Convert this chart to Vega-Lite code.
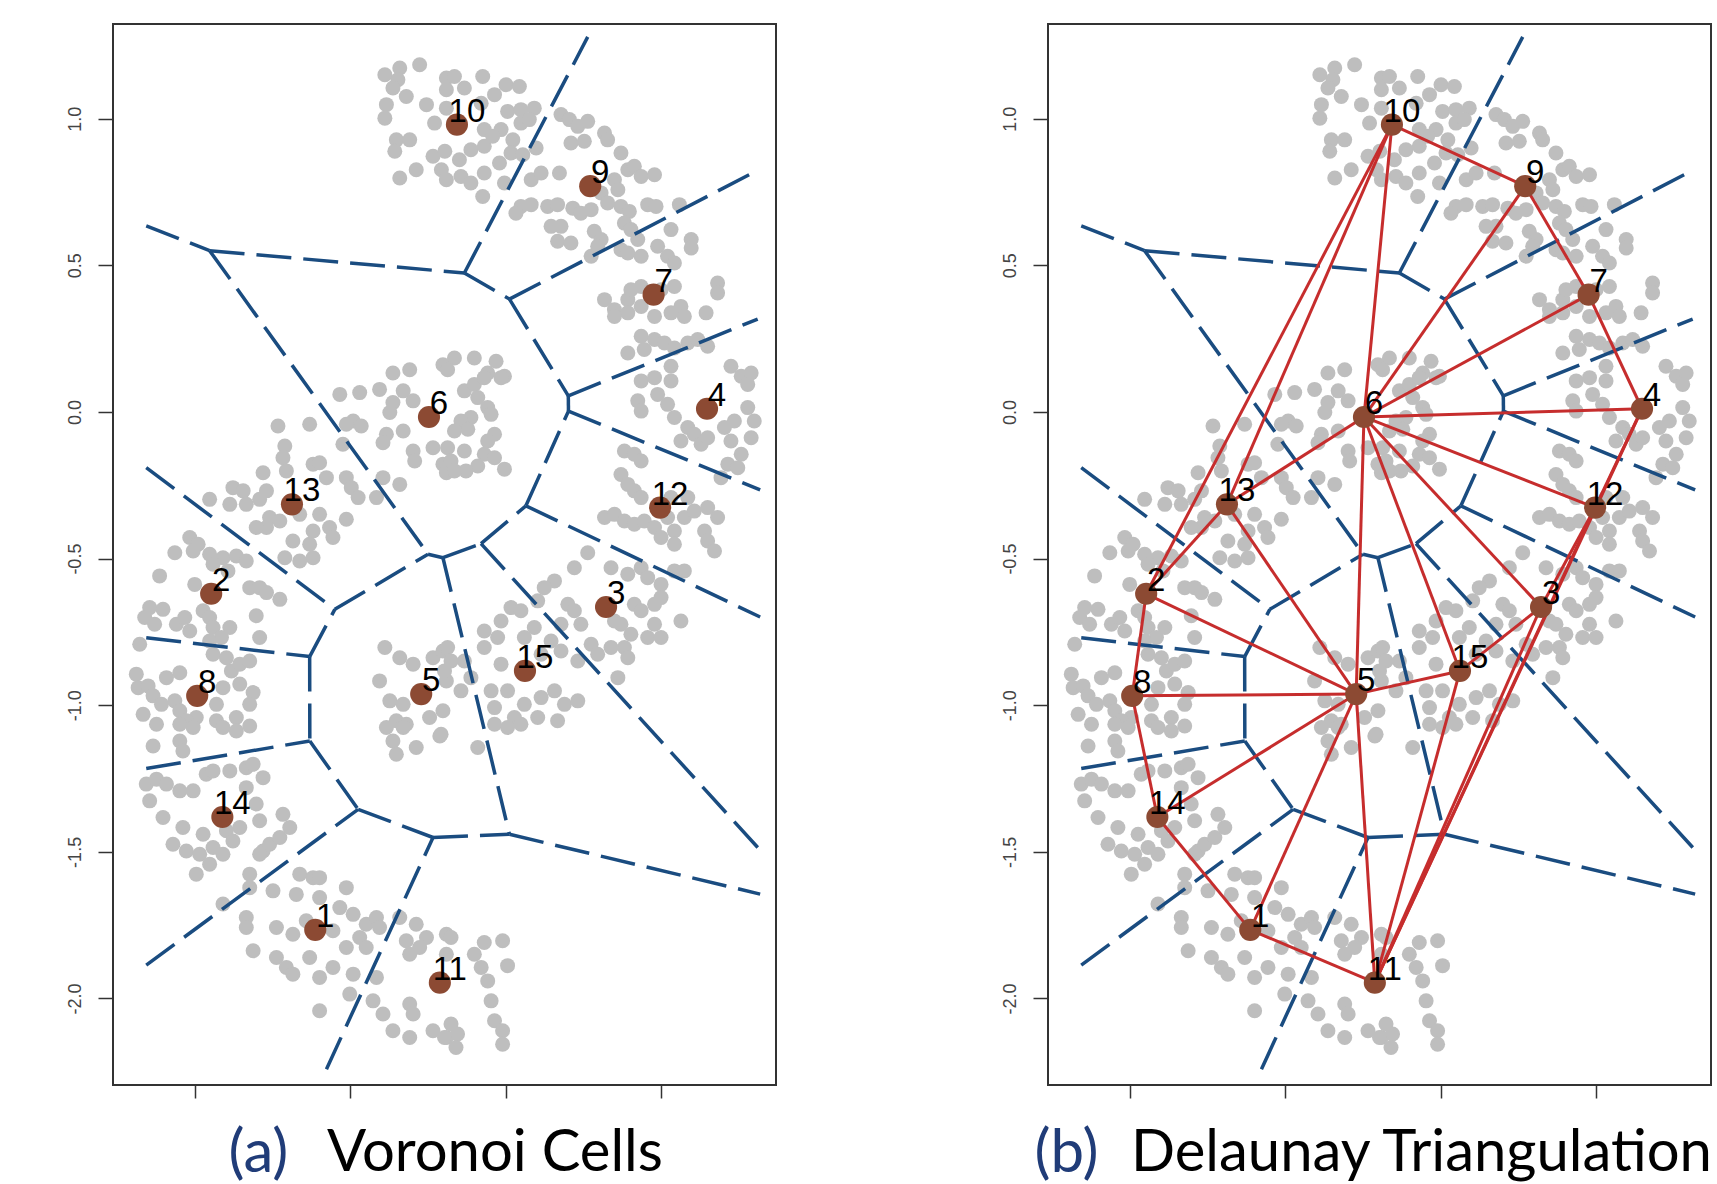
{
"$schema": "https://vega.github.io/schema/vega-lite/v6.json",
"background": "white",
"padding": {"left": 5, "top": 23, "right": 0, "bottom": 0},
"spacing": 163,
"config": {
  "view": {"stroke": "#333333", "strokeWidth": 2},
  "axis": {"grid": false, "domain": false, "tickColor": "#333333", "tickWidth": 1.5}
},
"datasets": {
"sites": [
{"id":1,"x":-0.613,"y":-1.766},{"id":2,"x":-0.948,"y":-0.620},{"id":3,"x":0.323,"y":-0.665},{"id":4,"x":0.648,"y":0.011},{"id":5,"x":-0.272,"y":-0.962},{"id":6,"x":-0.247,"y":-0.017},{"id":7,"x":0.476,"y":0.400},{"id":8,"x":-0.993,"y":-0.968},{"id":9,"x":0.272,"y":0.770},{"id":10,"x":-0.157,"y":0.980},{"id":11,"x":-0.212,"y":-1.946},{"id":12,"x":0.497,"y":-0.326},{"id":13,"x":-0.688,"y":-0.315},{"id":14,"x":-0.912,"y":-1.381},{"id":15,"x":0.062,"y":-0.883}
],
"voronoi": [
{"edge":1,"x":-1.157,"y":0.635},{"edge":1,"x":-0.953,"y":0.550},
{"edge":2,"x":-0.953,"y":0.550},{"edge":2,"x":-0.133,"y":0.474},
{"edge":3,"x":-0.133,"y":0.474},{"edge":3,"x":0.264,"y":1.279},
{"edge":4,"x":-0.133,"y":0.474},{"edge":4,"x":0.012,"y":0.385},
{"edge":5,"x":0.012,"y":0.385},{"edge":5,"x":0.811,"y":0.824},
{"edge":6,"x":0.012,"y":0.385},{"edge":6,"x":0.2015,"y":0.055},
{"edge":7,"x":0.2015,"y":0.055},{"edge":7,"x":0.811,"y":0.317},
{"edge":8,"x":0.2015,"y":0.055},{"edge":8,"x":0.202,"y":0.003},
{"edge":9,"x":0.202,"y":0.003},{"edge":9,"x":0.819,"y":-0.266},
{"edge":10,"x":0.202,"y":0.003},{"edge":10,"x":0.065,"y":-0.320},
{"edge":11,"x":0.065,"y":-0.320},{"edge":11,"x":0.819,"y":-0.699},
{"edge":12,"x":0.065,"y":-0.320},{"edge":12,"x":-0.0795,"y":-0.449},
{"edge":13,"x":-0.0795,"y":-0.449},{"edge":13,"x":0.819,"y":-1.494},
{"edge":14,"x":-0.0795,"y":-0.449},{"edge":14,"x":-0.202,"y":-0.497},
{"edge":15,"x":-0.202,"y":-0.497},{"edge":15,"x":-0.250,"y":-0.485},
{"edge":16,"x":-0.953,"y":0.550},{"edge":16,"x":-0.250,"y":-0.485},
{"edge":17,"x":-0.250,"y":-0.485},{"edge":17,"x":-0.550,"y":-0.673},
{"edge":18,"x":-1.157,"y":-0.190},{"edge":18,"x":-0.550,"y":-0.673},
{"edge":19,"x":-0.550,"y":-0.673},{"edge":19,"x":-0.631,"y":-0.834},
{"edge":20,"x":-0.631,"y":-0.834},{"edge":20,"x":-1.157,"y":-0.770},
{"edge":21,"x":-0.631,"y":-0.834},{"edge":21,"x":-0.6305,"y":-1.122},
{"edge":22,"x":-0.6305,"y":-1.122},{"edge":22,"x":-1.157,"y":-1.216},
{"edge":23,"x":-0.6305,"y":-1.122},{"edge":23,"x":-0.475,"y":-1.355},
{"edge":24,"x":-0.475,"y":-1.355},{"edge":24,"x":-1.157,"y":-1.886},
{"edge":25,"x":-0.475,"y":-1.355},{"edge":25,"x":-0.234,"y":-1.451},
{"edge":26,"x":-0.234,"y":-1.451},{"edge":26,"x":-0.577,"y":-2.241},
{"edge":27,"x":-0.234,"y":-1.451},{"edge":27,"x":0.012,"y":-1.440},
{"edge":28,"x":0.012,"y":-1.440},{"edge":28,"x":0.819,"y":-1.644},
{"edge":29,"x":-0.202,"y":-0.497},{"edge":29,"x":0.012,"y":-1.440}
],
"delaunay": [
{"edge":"10-9","site":10},{"edge":"10-9","site":9},
{"edge":"10-6","site":10},{"edge":"10-6","site":6},
{"edge":"10-13","site":10},{"edge":"10-13","site":13},
{"edge":"10-2","site":10},{"edge":"10-2","site":2},
{"edge":"9-7","site":9},{"edge":"9-7","site":7},
{"edge":"9-6","site":9},{"edge":"9-6","site":6},
{"edge":"7-6","site":7},{"edge":"7-6","site":6},
{"edge":"7-4","site":7},{"edge":"7-4","site":4},
{"edge":"4-6","site":4},{"edge":"4-6","site":6},
{"edge":"4-12","site":4},{"edge":"4-12","site":12},
{"edge":"4-11","site":4},{"edge":"4-11","site":11},
{"edge":"12-6","site":12},{"edge":"12-6","site":6},
{"edge":"12-3","site":12},{"edge":"12-3","site":3},
{"edge":"12-11","site":12},{"edge":"12-11","site":11},
{"edge":"3-6","site":3},{"edge":"3-6","site":6},
{"edge":"3-15","site":3},{"edge":"3-15","site":15},
{"edge":"3-11","site":3},{"edge":"3-11","site":11},
{"edge":"15-6","site":15},{"edge":"15-6","site":6},
{"edge":"15-5","site":15},{"edge":"15-5","site":5},
{"edge":"15-11","site":15},{"edge":"15-11","site":11},
{"edge":"5-6","site":5},{"edge":"5-6","site":6},
{"edge":"5-13","site":5},{"edge":"5-13","site":13},
{"edge":"5-2","site":5},{"edge":"5-2","site":2},
{"edge":"5-8","site":5},{"edge":"5-8","site":8},
{"edge":"5-14","site":5},{"edge":"5-14","site":14},
{"edge":"5-1","site":5},{"edge":"5-1","site":1},
{"edge":"5-11","site":5},{"edge":"5-11","site":11},
{"edge":"6-13","site":6},{"edge":"6-13","site":13},
{"edge":"13-2","site":13},{"edge":"13-2","site":2},
{"edge":"2-8","site":2},{"edge":"2-8","site":8},
{"edge":"8-14","site":8},{"edge":"8-14","site":14},
{"edge":"14-1","site":14},{"edge":"14-1","site":1},
{"edge":"1-11","site":1},{"edge":"1-11","site":11}
],
"cloud": [
{"x":-0.389,"y":1.150},{"x":-0.341,"y":1.173},{"x":-0.277,"y":1.184},{"x":-0.347,"y":1.133},{"x":-0.363,"y":1.105},{"x":-0.320,"y":1.076},{"x":-0.191,"y":1.139},{"x":-0.191,"y":1.099},{"x":-0.384,"y":1.048},{"x":-0.389,"y":1.002},{"x":-0.255,"y":1.048},{"x":-0.229,"y":0.985},{"x":-0.191,"y":1.036},{"x":-0.352,"y":0.928},{"x":-0.309,"y":0.928},{"x":-0.357,"y":0.889},{"x":-0.234,"y":0.872},{"x":-0.196,"y":0.889},{"x":-0.207,"y":0.826},{"x":-0.191,"y":0.792},{"x":-0.288,"y":0.826},{"x":-0.341,"y":0.798},{"x":-0.363,"y":0.133},{"x":-0.309,"y":0.144},{"x":-0.202,"y":0.161},
{"x":-0.165,"y":1.144},{"x":-0.074,"y":1.144},{"x":0.001,"y":1.116},{"x":0.044,"y":1.110},{"x":-0.133,"y":1.105},{"x":-0.036,"y":1.082},{"x":0.006,"y":1.025},{"x":0.049,"y":1.031},{"x":0.092,"y":1.036},{"x":-0.079,"y":1.053},{"x":-0.069,"y":0.963},{"x":-0.015,"y":0.963},{"x":0.023,"y":0.928},{"x":0.049,"y":0.985},{"x":0.076,"y":0.997},{"x":-0.149,"y":0.860},{"x":-0.112,"y":0.894},{"x":-0.069,"y":0.906},{"x":-0.042,"y":0.940},{"x":-0.020,"y":0.849},{"x":-0.069,"y":0.815},{"x":-0.144,"y":0.803},{"x":-0.112,"y":0.781},{"x":0.017,"y":0.883},{"x":0.055,"y":0.877},{"x":0.098,"y":0.900},{"x":0.082,"y":0.792},{"x":0.114,"y":0.815},{"x":-0.004,"y":0.781},{"x":-0.074,"y":0.735},{"x":0.049,"y":0.701},{"x":0.082,"y":0.707},{"x":0.033,"y":0.678},
{"x":0.178,"y":1.014},{"x":0.205,"y":0.997},{"x":0.232,"y":0.974},{"x":0.264,"y":0.991},{"x":0.318,"y":0.951},{"x":0.328,"y":0.928},{"x":0.210,"y":0.917},{"x":0.253,"y":0.923},{"x":0.371,"y":0.883},{"x":0.173,"y":0.815},{"x":0.393,"y":0.826},{"x":0.414,"y":0.838},{"x":0.436,"y":0.803},{"x":0.479,"y":0.809},{"x":0.350,"y":0.792},{"x":0.361,"y":0.758},{"x":0.307,"y":0.747},{"x":0.135,"y":0.701},{"x":0.167,"y":0.707},{"x":0.216,"y":0.695},{"x":0.242,"y":0.678},{"x":0.275,"y":0.690},{"x":0.328,"y":0.713},{"x":0.371,"y":0.701},{"x":0.398,"y":0.684},{"x":0.457,"y":0.707},{"x":0.484,"y":0.701},{"x":0.559,"y":0.707},{"x":0.146,"y":0.633},{"x":0.178,"y":0.633},{"x":0.167,"y":0.582},{"x":0.210,"y":0.576},{"x":0.285,"y":0.616},{"x":0.307,"y":0.588},{"x":0.382,"y":0.644},{"x":0.403,"y":0.622},{"x":0.425,"y":0.588},{"x":0.275,"y":0.531},{"x":0.296,"y":0.565},{"x":0.371,"y":0.553},{"x":0.393,"y":0.542},{"x":0.436,"y":0.531},{"x":0.532,"y":0.622},{"x":0.597,"y":0.588},{"x":0.597,"y":0.559},{"x":0.489,"y":0.565},{"x":0.521,"y":0.531},{"x":0.543,"y":0.508},
{"x":0.318,"y":0.383},{"x":0.350,"y":0.349},{"x":0.393,"y":0.383},{"x":0.403,"y":0.417},{"x":0.436,"y":0.428},{"x":0.500,"y":0.417},{"x":0.543,"y":0.428},{"x":0.564,"y":0.360},{"x":0.575,"y":0.326},{"x":0.532,"y":0.338},{"x":0.436,"y":0.360},{"x":0.479,"y":0.326},{"x":0.393,"y":0.338},{"x":0.350,"y":0.326},{"x":0.682,"y":0.440},{"x":0.682,"y":0.406},{"x":0.645,"y":0.338},{"x":0.436,"y":0.258},{"x":0.479,"y":0.247},{"x":0.511,"y":0.235},{"x":0.393,"y":0.201},{"x":0.446,"y":0.213},{"x":0.543,"y":0.218},{"x":0.586,"y":0.235},{"x":0.618,"y":0.247},{"x":0.650,"y":0.224},{"x":0.725,"y":0.156},{"x":0.532,"y":0.156},{"x":0.758,"y":0.122},{"x":0.790,"y":0.133},
{"x":-0.165,"y":0.184},{"x":-0.101,"y":0.184},{"x":-0.031,"y":0.173},{"x":-0.058,"y":0.133},{"x":-0.004,"y":0.122},{"x":-0.187,"y":0.144},
{"x":-0.534,"y":0.060},{"x":-0.470,"y":0.066},{"x":-0.406,"y":0.077},{"x":-0.330,"y":0.072},{"x":-0.298,"y":0.038},{"x":-0.363,"y":0.032},{"x":-0.373,"y":-0.002},{"x":-0.491,"y":-0.031},{"x":-0.465,"y":-0.048},{"x":-0.513,"y":-0.042},{"x":-0.384,"y":-0.076},{"x":-0.395,"y":-0.105},{"x":-0.298,"y":-0.133},{"x":-0.293,"y":-0.167},{"x":-0.234,"y":-0.122},{"x":-0.202,"y":-0.178},{"x":-0.191,"y":-0.207},{"x":-0.330,"y":-0.065},{"x":-0.524,"y":-0.110},
{"x":-0.733,"y":-0.048},{"x":-0.631,"y":-0.042},{"x":-0.711,"y":-0.116},{"x":-0.717,"y":-0.156},{"x":-0.781,"y":-0.207},{"x":-0.706,"y":-0.201},{"x":-0.620,"y":-0.178},{"x":-0.599,"y":-0.173},{"x":-0.577,"y":-0.224},{"x":-0.513,"y":-0.224},{"x":-0.497,"y":-0.258},{"x":-0.475,"y":-0.292},{"x":-0.416,"y":-0.292},{"x":-0.395,"y":-0.224},{"x":-0.341,"y":-0.247},{"x":-0.953,"y":-0.298},{"x":-0.878,"y":-0.258},{"x":-0.845,"y":-0.269},{"x":-0.888,"y":-0.315},{"x":-0.835,"y":-0.315},{"x":-0.792,"y":-0.298},{"x":-0.770,"y":-0.269},{"x":-0.760,"y":-0.360},{"x":-0.727,"y":-0.372},{"x":-0.770,"y":-0.394},{"x":-0.803,"y":-0.394},{"x":-0.663,"y":-0.349},{"x":-0.599,"y":-0.349},{"x":-0.567,"y":-0.394},{"x":-0.556,"y":-0.428},{"x":-0.513,"y":-0.366},{"x":-0.620,"y":-0.406},{"x":-0.631,"y":-0.451},{"x":-0.685,"y":-0.440},{"x":-0.620,"y":-0.497},{"x":-0.663,"y":-0.508},{"x":-0.711,"y":-0.497},
{"x":-1.017,"y":-0.428},{"x":-0.990,"y":-0.451},{"x":-1.065,"y":-0.480},{"x":-1.114,"y":-0.559},{"x":-1.006,"y":-0.474},{"x":-0.953,"y":-0.485},{"x":-0.910,"y":-0.497},{"x":-0.867,"y":-0.491},{"x":-0.835,"y":-0.508},{"x":-0.942,"y":-0.519},{"x":-0.894,"y":-0.542},{"x":-0.824,"y":-0.599},{"x":-0.792,"y":-0.599},{"x":-0.770,"y":-0.616},{"x":-0.727,"y":-0.639},{"x":-1.001,"y":-0.588},{"x":-1.146,"y":-0.667},{"x":-1.103,"y":-0.673},{"x":-1.162,"y":-0.701},{"x":-1.130,"y":-0.724},{"x":-1.060,"y":-0.724},{"x":-1.033,"y":-0.701},{"x":-1.017,"y":-0.747},{"x":-0.974,"y":-0.678},{"x":-0.953,"y":-0.701},{"x":-0.942,"y":-0.735},{"x":-0.888,"y":-0.735},{"x":-0.803,"y":-0.695},{"x":-0.792,"y":-0.769},{"x":-0.915,"y":-0.769},{"x":-0.953,"y":-0.781},{"x":-1.178,"y":-0.792},
{"x":-1.189,"y":-0.894},{"x":-1.183,"y":-0.940},{"x":-1.092,"y":-0.906},{"x":-1.049,"y":-0.889},{"x":-1.151,"y":-0.934},{"x":-1.135,"y":-0.968},{"x":-1.108,"y":-0.997},{"x":-1.065,"y":-0.985},{"x":-1.049,"y":-1.019},{"x":-0.996,"y":-1.042},{"x":-0.931,"y":-0.997},{"x":-0.910,"y":-0.940},{"x":-0.883,"y":-0.883},{"x":-0.856,"y":-0.928},{"x":-0.813,"y":-0.957},{"x":-0.824,"y":-0.997},{"x":-0.867,"y":-1.042},{"x":-0.931,"y":-1.053},{"x":-1.028,"y":-1.053},{"x":-1.167,"y":-1.031},{"x":-1.124,"y":-1.065},{"x":-0.942,"y":-0.826},{"x":-0.899,"y":-0.838},{"x":-0.856,"y":-0.860},{"x":-0.824,"y":-0.849},
{"x":-0.389,"y":-0.803},{"x":-0.341,"y":-0.838},{"x":-0.298,"y":-0.860},{"x":-0.234,"y":-0.838},{"x":-0.202,"y":-0.815},{"x":-0.406,"y":-0.917},{"x":-0.373,"y":-0.985},{"x":-0.330,"y":-0.997},{"x":-0.352,"y":-1.053},{"x":-0.320,"y":-1.065},{"x":-0.245,"y":-1.042},{"x":-0.202,"y":-1.019},{"x":-0.191,"y":-0.917},
{"x":-0.133,"y":0.072},{"x":-0.101,"y":0.094},{"x":-0.069,"y":0.117},{"x":-0.015,"y":0.117},{"x":-0.090,"y":0.049},{"x":-0.058,"y":0.015},{"x":-0.112,"y":-0.019},{"x":-0.144,"y":-0.031},{"x":-0.047,"y":-0.008},{"x":-0.122,"y":-0.059},{"x":-0.165,"y":-0.065},{"x":-0.036,"y":-0.076},{"x":-0.058,"y":-0.099},{"x":-0.187,"y":-0.122},{"x":-0.133,"y":-0.133},{"x":-0.176,"y":-0.167},{"x":-0.069,"y":-0.144},{"x":-0.036,"y":-0.156},{"x":-0.090,"y":-0.184},{"x":-0.128,"y":-0.201},{"x":-0.165,"y":-0.201},{"x":-0.004,"y":-0.195},
{"x":0.436,"y":0.106},{"x":0.479,"y":0.117},{"x":0.532,"y":0.106},{"x":0.489,"y":0.060},{"x":0.425,"y":0.038},{"x":0.436,"y":0.003},{"x":0.521,"y":0.026},{"x":0.543,"y":-0.019},{"x":0.586,"y":-0.053},{"x":0.607,"y":-0.076},{"x":0.564,"y":-0.099},{"x":0.629,"y":-0.110},{"x":0.650,"y":-0.088},{"x":0.704,"y":-0.053},{"x":0.736,"y":-0.031},{"x":0.779,"y":0.015},{"x":0.800,"y":-0.031},{"x":0.779,"y":0.094},{"x":0.725,"y":-0.099},{"x":0.758,"y":-0.144},{"x":0.715,"y":-0.178},{"x":0.693,"y":-0.224},{"x":0.747,"y":-0.190},{"x":0.790,"y":-0.088},
{"x":0.382,"y":-0.133},{"x":0.414,"y":-0.144},{"x":0.436,"y":-0.167},{"x":0.371,"y":-0.213},{"x":0.393,"y":-0.247},{"x":0.414,"y":-0.269},{"x":0.436,"y":-0.292},{"x":0.318,"y":-0.360},{"x":0.350,"y":-0.349},{"x":0.382,"y":-0.372},{"x":0.414,"y":-0.383},{"x":0.446,"y":-0.372},{"x":0.479,"y":-0.394},{"x":0.521,"y":-0.360},{"x":0.543,"y":-0.406},{"x":0.500,"y":-0.428},{"x":0.543,"y":-0.451},{"x":0.575,"y":-0.360},{"x":0.607,"y":-0.338},{"x":0.650,"y":-0.326},{"x":0.682,"y":-0.360},{"x":0.640,"y":-0.406},{"x":0.650,"y":-0.440},{"x":0.672,"y":-0.474},{"x":0.586,"y":-0.292},{"x":0.532,"y":-0.292},
{"x":0.264,"y":-0.480},{"x":0.221,"y":-0.531},{"x":0.339,"y":-0.531},{"x":0.393,"y":-0.553},{"x":0.436,"y":-0.531},{"x":0.457,"y":-0.565},{"x":0.500,"y":-0.588},{"x":0.500,"y":-0.633},{"x":0.479,"y":-0.656},{"x":0.543,"y":-0.542},{"x":0.575,"y":-0.542},{"x":0.157,"y":-0.576},{"x":0.124,"y":-0.599},{"x":0.103,"y":-0.644},{"x":0.200,"y":-0.656},{"x":0.221,"y":-0.678},{"x":0.242,"y":-0.724},{"x":0.178,"y":-0.724},{"x":0.350,"y":-0.713},{"x":0.371,"y":-0.724},{"x":0.414,"y":-0.656},{"x":0.436,"y":-0.678},{"x":0.479,"y":-0.724},{"x":0.457,"y":-0.769},{"x":0.500,"y":-0.769},{"x":0.403,"y":-0.758},{"x":0.382,"y":-0.803},{"x":0.393,"y":-0.838},{"x":0.339,"y":-0.803},{"x":0.564,"y":-0.713},{"x":0.275,"y":-0.792},{"x":0.296,"y":-0.826},{"x":0.232,"y":-0.849},{"x":0.361,"y":-0.906},
{"x":0.017,"y":-0.667},{"x":0.049,"y":-0.678},{"x":-0.015,"y":-0.713},{"x":-0.069,"y":-0.747},{"x":-0.069,"y":-0.803},{"x":-0.026,"y":-0.769},{"x":0.060,"y":-0.769},{"x":0.092,"y":-0.735},{"x":0.114,"y":-0.826},{"x":0.146,"y":-0.781},{"x":0.178,"y":-0.815},{"x":-0.015,"y":-0.860},{"x":-0.047,"y":-0.951},{"x":-0.187,"y":-0.803},{"x":-0.176,"y":-0.849},{"x":-0.197,"y":-0.883},{"x":-0.133,"y":-0.849},{"x":-0.112,"y":-0.906},{"x":0.006,"y":-0.951},{"x":0.060,"y":-0.997},{"x":0.114,"y":-0.974},{"x":0.157,"y":-0.951},{"x":0.189,"y":-0.997},{"x":0.232,"y":-0.985},{"x":0.028,"y":-1.042},{"x":0.103,"y":-1.042},{"x":0.167,"y":-1.053},{"x":-0.036,"y":-1.008},{"x":-0.144,"y":-0.951},
{"x":-1.049,"y":-1.065},{"x":-1.006,"y":-1.076},{"x":-0.910,"y":-1.076},{"x":-0.867,"y":-1.088},{"x":-0.824,"y":-1.071},{"x":-0.384,"y":-1.076},{"x":-0.330,"y":-1.076},{"x":-0.363,"y":-1.122},{"x":-0.352,"y":-1.167},{"x":-0.288,"y":-1.144},{"x":-0.212,"y":-1.105},{"x":-1.135,"y":-1.139},{"x":-1.049,"y":-1.122},{"x":-1.039,"y":-1.156},
{"x":-1.157,"y":-1.269},{"x":-1.124,"y":-1.252},{"x":-1.092,"y":-1.269},{"x":-1.146,"y":-1.326},{"x":-1.103,"y":-1.383},{"x":-1.049,"y":-1.292},{"x":-1.006,"y":-1.292},{"x":-0.964,"y":-1.235},{"x":-0.942,"y":-1.224},{"x":-0.888,"y":-1.224},{"x":-0.835,"y":-1.213},{"x":-0.813,"y":-1.201},{"x":-0.781,"y":-1.247},{"x":-0.835,"y":-1.281},{"x":-0.803,"y":-1.337},{"x":-0.792,"y":-1.394},{"x":-0.856,"y":-1.417},{"x":-0.899,"y":-1.428},{"x":-0.974,"y":-1.440},{"x":-1.039,"y":-1.417},{"x":-1.071,"y":-1.474},{"x":-1.028,"y":-1.497},{"x":-0.985,"y":-1.508},{"x":-0.996,"y":-1.576},{"x":-0.942,"y":-1.485},{"x":-0.910,"y":-1.508},{"x":-0.953,"y":-1.542},{"x":-0.878,"y":-1.463},{"x":-0.781,"y":-1.497},{"x":-0.760,"y":-1.474},{"x":-0.727,"y":-1.451},{"x":-0.717,"y":-1.372},{"x":-0.695,"y":-1.417},
{"x":-0.824,"y":-1.576},{"x":-0.792,"y":-1.508},{"x":-0.824,"y":-1.622},{"x":-0.749,"y":-1.633},{"x":-0.663,"y":-1.576},{"x":-0.620,"y":-1.588},{"x":-0.599,"y":-1.588},{"x":-0.674,"y":-1.645},{"x":-0.599,"y":-1.656},{"x":-0.513,"y":-1.622},{"x":-0.910,"y":-1.678},{"x":-0.835,"y":-1.724},{"x":-0.835,"y":-1.758},{"x":-0.738,"y":-1.758},{"x":-0.685,"y":-1.781},{"x":-0.642,"y":-1.735},{"x":-0.534,"y":-1.690},{"x":-0.556,"y":-1.769},{"x":-0.491,"y":-1.713},{"x":-0.449,"y":-1.747},{"x":-0.416,"y":-1.724},{"x":-0.406,"y":-1.758},{"x":-0.470,"y":-1.792},{"x":-0.513,"y":-1.826},{"x":-0.449,"y":-1.826},{"x":-0.341,"y":-1.724},{"x":-0.320,"y":-1.803},{"x":-0.288,"y":-1.747},{"x":-0.255,"y":-1.792},{"x":-0.277,"y":-1.826},{"x":-0.309,"y":-1.849},{"x":-0.813,"y":-1.837},{"x":-0.738,"y":-1.860},{"x":-0.706,"y":-1.894},{"x":-0.685,"y":-1.917},{"x":-0.631,"y":-1.860},{"x":-0.599,"y":-1.928},{"x":-0.556,"y":-1.894},{"x":-0.491,"y":-1.917},{"x":-0.416,"y":-1.928},{"x":-0.502,"y":-1.985},{"x":-0.427,"y":-2.008},{"x":-0.395,"y":-2.053},{"x":-0.363,"y":-2.110},{"x":-0.309,"y":-2.133},{"x":-0.309,"y":-2.019},{"x":-0.298,"y":-2.053},{"x":-0.234,"y":-2.110},{"x":-0.599,"y":-2.042},{"x":-0.191,"y":-2.133},{"x":-0.191,"y":-1.781},{"x":-0.191,"y":-1.849},
{"x":-0.208,"y":-1.099},{"x":-0.090,"y":-1.144},{"x":-0.036,"y":-1.065},{"x":0.006,"y":-1.076},{"x":0.049,"y":-1.065},
{"x":-0.176,"y":-1.792},{"x":-0.069,"y":-1.809},{"x":-0.010,"y":-1.803},{"x":-0.101,"y":-1.849},{"x":-0.079,"y":-1.894},{"x":0.006,"y":-1.888},{"x":-0.058,"y":-1.940},{"x":-0.047,"y":-2.008},{"x":-0.036,"y":-2.076},{"x":-0.010,"y":-2.110},{"x":-0.010,"y":-2.156},{"x":-0.176,"y":-2.087},{"x":-0.155,"y":-2.121},{"x":-0.160,"y":-2.167},{"x":-0.197,"y":-2.133}
]
},
"hconcat": [
{
  "width": 663, "height": 1061,
  "title": {"text": "Voronoi Cells", "orient": "bottom", "anchor": "start", "frame": "group", "dx": 214, "offset": -12, "baseline": "alphabetic", "font": "Lato", "fontSize": 58, "fontWeight": "normal", "color": "#000000"},
  "encoding": {
    "x": {"field": "x", "type": "quantitative", "scale": {"domain": [-1.264, 0.870], "nice": false, "zero": false},
      "axis": {"values": [-1, -0.5, 0, 0.5], "labels": false, "tickSize": 13, "title": "(a)", "titleColor": "#203c78", "titleFont": "Lato", "titleFontSize": 60, "titleFontWeight": "normal", "titleAlign": "left", "titleBaseline": "alphabetic", "titleX": 115, "titleY": 86}},
    "y": {"field": "y", "type": "quantitative", "scale": {"domain": [-2.295, 1.323], "nice": false, "zero": false},
      "axis": {"values": [-2, -1.5, -1, -0.5, 0, 0.5, 1], "labelExpr": "replace(format(datum.value, '.1f'), '−', '-')", "labelAngle": -90, "labelAlign": "center", "labelBaseline": "bottom", "labelPadding": 14, "labelFont": "Liberation Sans", "labelFontSize": 18, "labelColor": "#444444", "tickSize": 15, "title": null, "minExtent": 107, "maxExtent": 107}}
  },
  "layer": [
    {"data": {"name": "cloud"}, "mark": {"type": "point", "filled": true, "opacity": 1, "size": 225, "color": "#bebebe"}},
    {"data": {"name": "voronoi"}, "mark": {"type": "line", "color": "#1a4c80", "strokeWidth": 3.5, "strokeDash": [35, 12]}, "encoding": {"detail": {"field": "edge"}}},
    {"data": {"name": "sites"}, "mark": {"type": "point", "filled": true, "opacity": 1, "size": 490, "color": "#8c4a33"}},
    {"data": {"name": "sites"}, "mark": {"type": "text", "font": "Liberation Sans", "fontSize": 33, "align": "center", "baseline": "alphabetic", "dx": 10, "dy": -3, "color": "#000000"}, "encoding": {"text": {"field": "id"}}}
  ]
},
{
  "width": 663, "height": 1061,
  "title": {"text": "Delaunay Triangulation", "orient": "bottom", "anchor": "start", "frame": "group", "dx": 83, "offset": -12, "baseline": "alphabetic", "font": "Lato", "fontSize": 58, "fontWeight": "normal", "color": "#000000"},
  "encoding": {
    "x": {"field": "x", "type": "quantitative", "scale": {"domain": [-1.264, 0.870], "nice": false, "zero": false},
      "axis": {"values": [-1, -0.5, 0, 0.5], "labels": false, "tickSize": 13, "title": "(b)", "titleColor": "#203c78", "titleFont": "Lato", "titleFontSize": 60, "titleFontWeight": "normal", "titleAlign": "left", "titleBaseline": "alphabetic", "titleX": -14, "titleY": 86}},
    "y": {"field": "y", "type": "quantitative", "scale": {"domain": [-2.295, 1.323], "nice": false, "zero": false},
      "axis": {"values": [-2, -1.5, -1, -0.5, 0, 0.5, 1], "labelExpr": "replace(format(datum.value, '.1f'), '−', '-')", "labelAngle": -90, "labelAlign": "center", "labelBaseline": "bottom", "labelPadding": 14, "labelFont": "Liberation Sans", "labelFontSize": 18, "labelColor": "#444444", "tickSize": 15, "title": null, "minExtent": 107, "maxExtent": 107}}
  },
  "layer": [
    {"data": {"name": "cloud"}, "mark": {"type": "point", "filled": true, "opacity": 1, "size": 225, "color": "#bebebe"}},
    {"data": {"name": "voronoi"}, "mark": {"type": "line", "color": "#1a4c80", "strokeWidth": 3.5, "strokeDash": [35, 12]}, "encoding": {"detail": {"field": "edge"}}},
    {"data": {"name": "delaunay"}, "transform": [{"lookup": "site", "from": {"data": {"name": "sites"}, "key": "id", "fields": ["x", "y"]}}], "mark": {"type": "line", "color": "#c62d2d", "strokeWidth": 3}, "encoding": {"detail": {"field": "edge"}}},
    {"data": {"name": "sites"}, "mark": {"type": "point", "filled": true, "opacity": 1, "size": 490, "color": "#8c4a33"}},
    {"data": {"name": "sites"}, "mark": {"type": "text", "font": "Liberation Sans", "fontSize": 33, "align": "center", "baseline": "alphabetic", "dx": 10, "dy": -3, "color": "#000000"}, "encoding": {"text": {"field": "id"}}}
  ]
}
]
}
